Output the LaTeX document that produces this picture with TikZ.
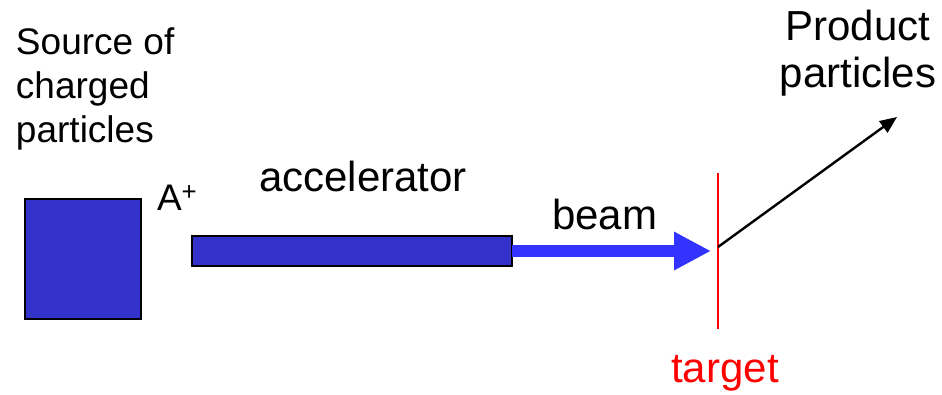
\documentclass[tikz,border=0pt]{standalone}
\usepackage{fontspec}
\setmainfont{Liberation Sans}
\usetikzlibrary{arrows.meta}
\definecolor{boxblue}{RGB}{51,51,204}
\definecolor{beamblue}{RGB}{51,51,255}
\definecolor{targetred}{RGB}{255,0,0}
\begin{document}
\begin{tikzpicture}[x=1pt,y=-1pt,
  part/.style={draw=black,fill=boxblue,inner sep=0pt,outer sep=0pt},
  label/.style={inner sep=0pt,outer sep=0pt,font=\fontsize{42}{47}\selectfont},
  small/.style={inner sep=0pt,outer sep=0pt,font=\fontsize{37}{44}\selectfont}]
\useasboundingbox (0,0) rectangle (942,394);
% source and accelerator
\node[part,line width=2pt,minimum width=116pt,minimum height=120pt] (src) at (83,259) {};
\node[part,line width=1.5pt,minimum width=320pt,minimum height=30pt] (acc) at (352,251) {};
% target foil
\coordinate (ttop) at (718,173);
\coordinate (tbot) at (718,329);
\coordinate (hit) at (718,247);
\coordinate (beamtip) at (711,251);
\coordinate (out) at (897,117);
\draw[targetred,line width=2pt] (ttop) -- (tbot);
% beam and products
\draw[beamblue,line width=12pt,-{Triangle[length=37pt,width=36pt]}] (acc.east) -- (beamtip);
\draw[black,line width=2.4pt,-{Triangle[length=17pt,width=14pt]}] (hit) -- (out);
% labels (multi-line nodes sit on the baseline of their last line)
\node[small,anchor=base west,align=left] (srclab) at (16,142) {Source of\\charged\\particles};
\node[small,anchor=base west] (ion) at (157,210) {A\textsuperscript{+}};
\node[label,anchor=base west] (acclab) at (259,191) {accelerator};
\node[label,anchor=base west] (beamlab) at (552,229) {beam};
\node[label,anchor=base,text=targetred] (tlab) at (725,382) {target};
\node[label,anchor=base,align=center] (prod) at (858,87) {Product\\particles};
\end{tikzpicture}
\end{document}
